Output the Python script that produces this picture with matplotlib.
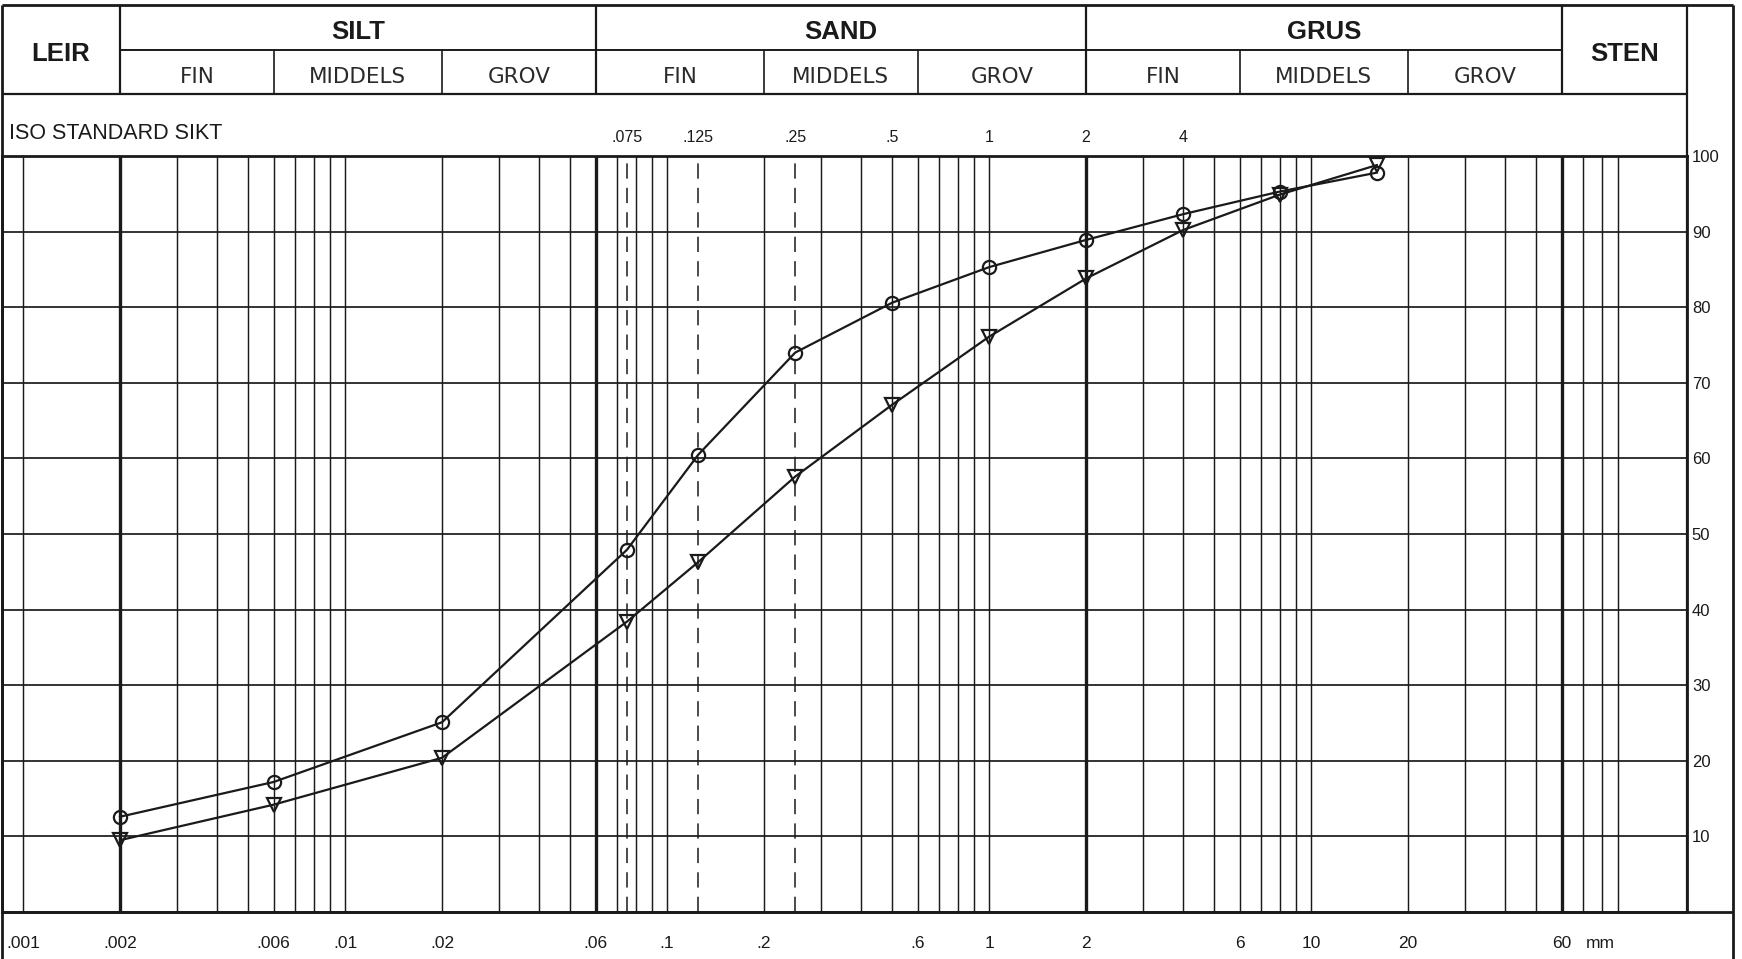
import numpy as np
import matplotlib
matplotlib.use("Agg")
import matplotlib.pyplot as plt

# sieve sizes (mm) and percent passing for the two samples
sieve_mm = [0.002, 0.006, 0.02, 0.075, 0.125, 0.25, 0.5, 1, 2, 4, 8, 16]
pass_circle = [12.6, 17.2, 25.1, 47.9, 60.5, 74.0, 80.6, 85.3, 88.9, 92.3, 95.3, 97.8]
pass_triangle = [9.5, 14.2, 20.4, 38.4, 46.3, 57.6, 67.1, 76.1, 83.8, 90.2, 94.9, 98.8]

# soil classes
main_bounds = [0.002, 0.06, 2, 60]
main_names = ["SILT", "SAND", "GRUS"]
sub_bounds = [0.006, 0.02, 0.2, 0.6, 6, 20]
sub_names = ["FIN", "MIDDELS", "GROV"]

# ISO sieves (dashed) and the label row
iso_dashed = [0.075, 0.125, 0.25]
iso_values = [0.075, 0.125, 0.25, 0.5, 1, 2, 4]
iso_labels = [".075", ".125", ".25", ".5", "1", "2", "4"]

xtick_values = [0.001, 0.002, 0.006, 0.01, 0.02, 0.06, 0.1, 0.2, 0.6, 1, 2, 6, 10, 20, 60]
xtick_labels = [".001", ".002", ".006", ".01", ".02", ".06", ".1", ".2", ".6",
                "1", "2", "6", "10", "20", "60"]
ytick_values = [10, 20, 30, 40, 50, 60, 70, 80, 90, 100]

W, H = 1742, 959
XMIN, XMAX = 0.00086, 147
INK = "#1a1a1a"
SANS = ["Liberation Sans", "DejaVu Sans"]

fig = plt.figure(figsize=(W / 100, H / 100), dpi=100)
fig.patch.set_facecolor("white")
ax = fig.add_axes([2 / W, 47 / H, 1685 / W, 756 / H])
ax.set_xscale("log")
ax.set_xlim(XMIN, XMAX)
ax.set_ylim(0, 100)

for s in ax.spines.values():
    s.set_linewidth(2.0)
    s.set_color(INK)

# vertical log grid 1..9 x 10^n, up to 90 mm
for e in range(-3, 2):
    for k in range(1, 10):
        v = k * 10.0 ** e
        lw = 2.4 if any(np.isclose(v, b) for b in main_bounds) else 1.05
        ax.axvline(v, color=INK, lw=lw, zorder=1)
for v in ytick_values[:-1]:
    ax.axhline(v, color=INK, lw=1.25, zorder=1)
for v in iso_dashed:
    ax.axvline(v, color=INK, lw=1.1, ls=(0, (10, 6)), zorder=1.5)

# curves
ax.plot(sieve_mm, pass_circle, color=INK, lw=1.6, marker="o", ms=9.5,
        mfc="none", mec=INK, mew=1.6, zorder=3)
ax.plot(sieve_mm, pass_triangle, color=INK, lw=1.6, marker="v", ms=10.5,
        mfc="none", mec=INK, mew=1.6, zorder=3)

# ticks
PAD = 17.5
ax.set_xticks(xtick_values)
ax.set_xticklabels(xtick_labels, family=SANS, fontsize=12.5, color=INK)
ax.xaxis.set_minor_locator(matplotlib.ticker.NullLocator())
ax.tick_params(axis="x", length=0, pad=PAD)
ax.set_yticks(ytick_values)
ax.set_yticklabels([str(v) for v in ytick_values], family=SANS, fontsize=12, color=INK)
ax.tick_params(axis="y", left=False, right=False, labelleft=False, labelright=True,
               length=0, pad=3.5)
ax.text(0.9485, -(PAD * 100 / 72) / 756, "mm", transform=ax.transAxes, ha="center", va="top",
        family=SANS, fontsize=12.5, color=INK)

# header frame (axes fraction in y)
Y_TOP, Y_MID, Y_HDR = 1.1997, 1.1402, 1.0820
X_RIGHT = 1.0273
Y_BOT = -0.07
ta = ax.transAxes
tx = ax.get_xaxis_transform()
kw = dict(color=INK, clip_on=False, solid_capstyle="butt")
ax.plot([0, X_RIGHT], [Y_TOP, Y_TOP], transform=ta, lw=2.0, **kw)
ax.plot([0, 0], [Y_BOT, Y_TOP], transform=ta, lw=2.0, **kw)
ax.plot([X_RIGHT, X_RIGHT], [Y_BOT, Y_TOP], transform=ta, lw=2.0, **kw)
ax.plot([1, 1], [0, Y_TOP], transform=ta, lw=1.6, **kw)
ax.plot([0, X_RIGHT], [0, 0], transform=ta, lw=2.0, **kw)
ax.plot([0, 1], [Y_HDR, Y_HDR], transform=ta, lw=1.6, **kw)
ax.plot([main_bounds[0], main_bounds[-1]], [Y_MID, Y_MID], transform=tx, lw=1.4, **kw)
for b in main_bounds:
    ax.plot([b, b], [Y_HDR, Y_TOP], transform=tx, lw=1.6, **kw)
for b in sub_bounds:
    ax.plot([b, b], [Y_HDR, Y_MID], transform=tx, lw=1.2, **kw)

bold = dict(family=["Liberation Sans Narrow", "Liberation Sans", "DejaVu Sans"],
            fontweight="bold", fontsize=18.5, color=INK, ha="center", va="center")
light = dict(family=["DejaVu Sans"], fontsize=15.5, color="#2a2a2a", ha="center", va="center")

gm = lambda a, b: np.sqrt(a * b)
DY = 0.006
ax.text(gm(XMIN, main_bounds[0]), (Y_TOP + Y_HDR) / 2 - DY, "LEIR", transform=tx, **bold)
ax.text(gm(main_bounds[-1], XMAX), (Y_TOP + Y_HDR) / 2 - DY, "STEN", transform=tx, **bold)
for i, name in enumerate(main_names):
    lo, hi = main_bounds[i], main_bounds[i + 1]
    ax.text(gm(lo, hi), (Y_TOP + Y_MID) / 2 - DY, name, transform=tx, **bold)
    edges = [lo, sub_bounds[2 * i], sub_bounds[2 * i + 1], hi]
    for j, sname in enumerate(sub_names):
        ax.text(gm(edges[j], edges[j + 1]), (Y_MID + Y_HDR) / 2 - DY, sname,
                transform=tx, **light)

ax.text(0.004, 1.0295, "ISO STANDARD SIKT", transform=ta, ha="left", va="center",
        family=SANS, fontsize=15.5, color=INK)
for v, lab in zip(iso_values, iso_labels):
    ax.text(v, 1.0245, lab, transform=tx, ha="center", va="center",
            family=SANS, fontsize=11.5, color=INK)

fig.savefig("out.png", dpi=100, facecolor="white")
